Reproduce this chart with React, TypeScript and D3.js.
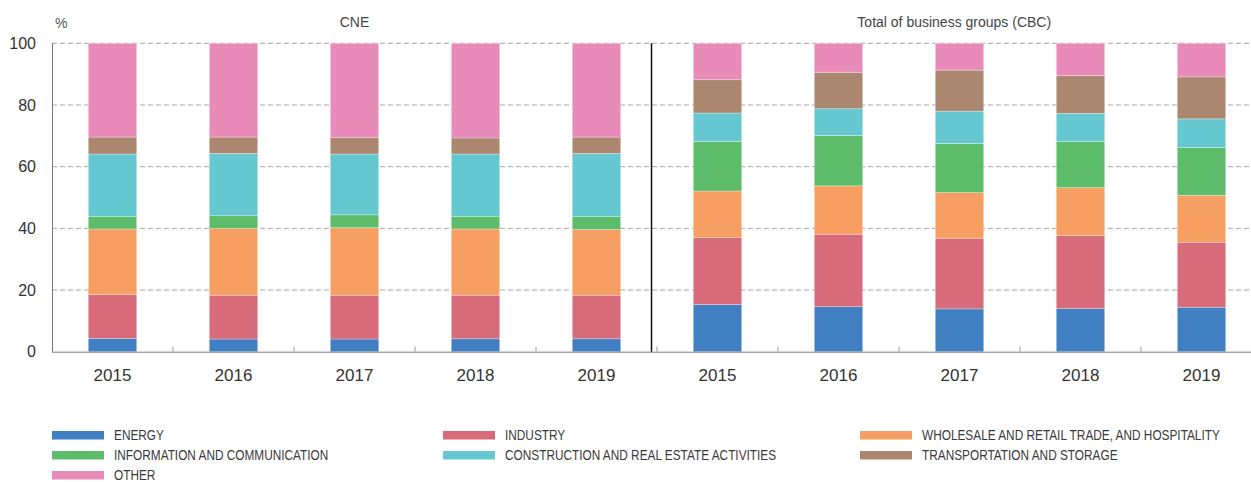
import React, { useEffect, useRef } from "react";
import * as d3 from "d3";

// categories
const years = ["2015", "2016", "2017", "2018", "2019"];
const panels = ["CNE", "Total of business groups (CBC)"];

const sectors = [
  "ENERGY",
  "INDUSTRY",
  "WHOLESALE AND RETAIL TRADE, AND HOSPITALITY",
  "INFORMATION AND COMMUNICATION",
  "CONSTRUCTION AND REAL ESTATE ACTIVITIES",
  "TRANSPORTATION AND STORAGE",
  "OTHER",
];
const sectorColors = ["#3f7fc2", "#d86b79", "#f79e62", "#5ebd6a", "#65c8d0", "#ab8770", "#e88bb8"];

// shares (%) per year, one array per sector, CNE then CBC
const cneEnergy = [4.3, 4.1, 4.1, 4.2, 4.2];
const cneIndustry = [14.2, 14.2, 14.2, 14.1, 14.1];
const cneWholesale = [21.3, 21.7, 21.9, 21.5, 21.3];
const cneInfo = [4.1, 4.1, 4.2, 4.1, 4.2];
const cneConstruction = [20.2, 20.2, 19.7, 20.2, 20.5];
const cneTransport = [5.5, 5.3, 5.4, 5.2, 5.3];
const cneOther = [30.4, 30.4, 30.5, 30.7, 30.4];

const cbcEnergy = [15.3, 14.6, 13.9, 14.0, 14.4];
const cbcIndustry = [21.7, 23.5, 22.9, 23.7, 21.1];
const cbcWholesale = [15.1, 15.7, 14.8, 15.5, 15.2];
const cbcInfo = [16.1, 16.3, 15.9, 15.0, 15.5];
const cbcConstruction = [9.2, 8.7, 10.5, 9.1, 9.3];
const cbcTransport = [10.8, 11.8, 13.3, 12.2, 13.6];
const cbcOther = [11.8, 9.4, 8.7, 10.5, 10.9];

const yTicks = [0, 20, 40, 60, 80, 100];

const cneSeries = [cneEnergy, cneIndustry, cneWholesale, cneInfo, cneConstruction, cneTransport, cneOther];
const cbcSeries = [cbcEnergy, cbcIndustry, cbcWholesale, cbcInfo, cbcConstruction, cbcTransport, cbcOther];

export default function App() {
  const svgRef = useRef<SVGSVGElement | null>(null);

  useEffect(() => {
    const width = 1251;
    const height = 482;
    const margin = { top: 43, left: 52, bottom: 130 };
    const plotRight = 1262; // axis runs past the right edge
    const font = "Arial, 'Liberation Sans', sans-serif";

    const svg = d3.select(svgRef.current);
    svg.selectAll("*").remove();
    svg.attr("width", width).attr("height", height);

    // build table rows: one per bar
    const rows: any[] = [];
    [cneSeries, cbcSeries].forEach((series, p) => {
      years.forEach((yr, i) => {
        const row: any = { key: `${p}-${yr}`, year: yr };
        sectors.forEach((s, k) => (row[s] = series[k][i]));
        rows.push(row);
      });
    });

    const x = d3.scaleBand()
      .domain(rows.map(d => d.key))
      .range([margin.left, plotRight])
      .paddingInner(0.6)
      .paddingOuter(0.3);

    const y = d3.scaleLinear()
      .domain([0, 100])
      .range([height - margin.bottom - 0.3, margin.top + 0.3]);

    // gridlines
    svg.append("g")
      .selectAll("line")
      .data(yTicks.filter(t => t > 0))
      .enter()
      .append("line")
      .attr("x1", margin.left)
      .attr("x2", width)
      .attr("y1", d => y(d))
      .attr("y2", d => y(d))
      .attr("stroke", "#a6a6a6")
      .attr("stroke-width", 1)
      .attr("stroke-dasharray", "5,3");

    // stacked bars
    const stack = d3.stack<any>().keys(sectors);
    const layers = stack(rows);

    svg.append("g")
      .selectAll("g")
      .data(layers)
      .enter()
      .append("g")
      .attr("fill", (d, i) => sectorColors[i])
      .selectAll("rect")
      .data(d => d)
      .enter()
      .append("rect")
      .attr("x", (d: any) => x(d.data.key)!)
      .attr("width", x.bandwidth())
      .attr("y", (d: any) => y(d[1]))
      .attr("height", (d: any) => y(d[0]) - y(d[1]))
      .attr("stroke", "rgba(255,255,255,0.35)")
      .attr("stroke-width", 0.8);

    // y axis line
    svg.append("line")
      .attr("x1", margin.left + 0.5)
      .attr("x2", margin.left + 0.5)
      .attr("y1", y(100))
      .attr("y2", y(0))
      .attr("stroke", "#777")
      .attr("stroke-width", 1);

    // x axis line
    svg.append("line")
      .attr("x1", margin.left)
      .attr("x2", width)
      .attr("y1", y(0) + 0.5)
      .attr("y2", y(0) + 0.5)
      .attr("stroke", "#777")
      .attr("stroke-width", 1);

    // inner ticks at band boundaries
    const step = x.step();
    const boundaries = d3.range(1, rows.length).map(i => margin.left + i * step);
    svg.append("g")
      .selectAll("line")
      .data(boundaries)
      .enter()
      .append("line")
      .attr("x1", d => d)
      .attr("x2", d => d)
      .attr("y1", y(0))
      .attr("y2", y(0) - 5)
      .attr("stroke", "#999")
      .attr("stroke-width", 1);

    // divider between panels
    const divX = margin.left + years.length * step - 5.5;
    svg.append("line")
      .attr("x1", divX)
      .attr("x2", divX)
      .attr("y1", y(100))
      .attr("y2", y(0))
      .attr("stroke", "#111")
      .attr("stroke-width", 1.5);

    // y tick labels
    svg.append("g")
      .selectAll("text")
      .data(yTicks)
      .enter()
      .append("text")
      .attr("x", 36)
      .attr("y", d => y(d))
      .attr("dy", "0.35em")
      .attr("text-anchor", "end")
      .attr("font-family", font)
      .attr("font-size", 16)
      .attr("fill", "#333")
      .text(d => d);

    // x tick labels
    svg.append("g")
      .selectAll("text")
      .data(rows)
      .enter()
      .append("text")
      .attr("x", d => x(d.key)! + x.bandwidth() / 2)
      .attr("y", 381)
      .attr("text-anchor", "middle")
      .attr("font-family", font)
      .attr("font-size", 17)
      .attr("fill", "#333")
      .text(d => d.year);

    // unit label
    svg.append("text")
      .attr("x", 55)
      .attr("y", 28)
      .attr("font-family", font)
      .attr("font-size", 14)
      .attr("fill", "#555")
      .text("%");

    // panel titles
    const panelCenters = [
      margin.left + (years.length * step) / 2,
      divX + (width - divX) / 2 + 3,
    ];
    svg.append("g")
      .selectAll("text")
      .data(panels)
      .enter()
      .append("text")
      .attr("x", (d, i) => panelCenters[i])
      .attr("y", 27)
      .attr("text-anchor", "middle")
      .attr("font-family", font)
      .attr("font-size", 14)
      .attr("fill", "#444")
      .text(d => d);

    // legend: 3 columns, filled row by row
    const colX = [52, 443, 860];
    const legend = svg.append("g")
      .selectAll("g")
      .data(sectors)
      .enter()
      .append("g")
      .attr("transform", (d, i) => `translate(${colX[i % 3]}, ${435 + Math.floor(i / 3) * 20})`);

    legend.append("rect")
      .attr("x", 0)
      .attr("y", -4)
      .attr("width", 52)
      .attr("height", 8.5)
      .attr("fill", (d, i) => sectorColors[i]);

    // condensed look: squeeze the regular face horizontally
    legend.append("text")
      .attr("transform", "translate(62, 0) scale(0.845, 1)")
      .attr("dy", "0.36em")
      .attr("font-family", font)
      .attr("font-size", 14)
      .attr("fill", "#3a3a3a")
      .text(d => d);
  }, []);

  return (
    <div style={{ position: "absolute", left: 0, top: 0 }}>
      <svg ref={svgRef}></svg>
    </div>
  );
}
